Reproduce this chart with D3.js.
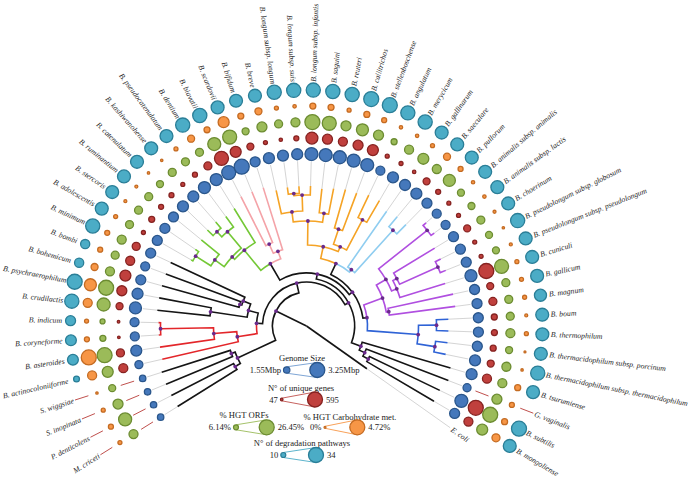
<!DOCTYPE html>
<html><head><meta charset="utf-8">
<script src="https://cdn.jsdelivr.net/npm/d3@7"></script>
<style>body{margin:0;background:#fff}svg{display:block}</style>
</head><body><svg id="c" width="696" height="482"></svg>
<script>
// ---------------- DATA ----------------
const species = ["M. criceti","P. denticolens","S. inopinata","S. wiggsiae","B. actinocoloniiforme","B. asteroides","B. coryneforme","B. indicum","B. crudilactis","B. psychraerophilum",
"B. bohemicum","B. bombi","B. minimum","B. adolescentis","B. stercoris","B. ruminantium","B. catenulatum","B. kashiwanohense","B. pseudocatenulatum","B. dentium",
"B. biavatii","B. scardovii","B. bifidum","B. breve","B. longum subsp. longum","B. longum subsp. suis","B. longum subsp. infantis","B. saguini","B. reuteri","B. callitrichos",
"B. stellenboschense","B. angulatum","B. merycicum","B. gallinarum","B. saeculare","B. pullorum","B. animalis subsp. animalis","B. animalis subsp. lactis","B. choerinum","B. pseudolongum subsp. globosum",
"B. pseudolongum subsp. pseudolongum","B. cuniculi","B. gallicum","B. magnum","B. boum","B. thermophilum","B. thermacidophilum subsp. porcinum","B. thermacidophilum subsp. thermacidophilum","B. tsurumiense","G. vaginalis",
"B. subtilis","B. mongoliense","E. coli"];

// Genome size (Mbp)
const genomeSize = [1.55,1.55,1.55,1.55,1.87,2.46,2.06,2.06,2.66,2.46,
 2.26,2.06,2.26,2.26,2.26,2.26,2.46,2.46,2.66,2.66,
 3.05,3.25,2.26,2.46,2.46,2.46,2.85,2.85,2.85,2.85,
 2.85,2.06,2.46,2.46,2.46,2.26,2.06,2.06,2.26,2.26,
 2.26,2.66,2.26,2.26,2.26,2.26,2.26,2.46,2.46,1.87,
 2.85,2.26,null];
// N° of unique genes
const uniqueGenes = [null,null,null,null,330,286,47,47,241,374,
 418,330,286,109,197,153,153,109,153,286,
 551,418,241,109,82,153,462,374,330,374,
 418,109,109,82,241,153,109,109,241,109,
 109,595,241,286,197,197,197,241,330,null,
 595,330,null];
// % HGT ORFs
const hgtOrfs = [14.3,22.4,16.3,10.2,18.3,26.45,8.2,6.14,22.4,26.45,
 14.3,12.2,14.3,12.2,12.2,12.2,10.2,12.2,12.2,12.2,
 22.4,24.4,10.2,16.3,12.2,14.3,26.45,24.4,16.3,20.4,
 16.3,8.2,14.3,18.3,14.3,20.4,10.2,10.2,12.2,10.2,
 10.2,24.4,12.2,12.2,12.2,14.3,10.2,14.3,14.3,16.3,
 26.45,18.3,null];
// % HGT carbohydrate metabolism
const hgtCarb = [0.73,1.09,0.73,0.15,2.54,4.72,1.09,0.73,2.54,3.63,
 1.82,1.09,1.09,0.73,0.36,0.36,0.15,0.15,0.73,1.82,
 1.45,3.27,1.45,1.82,0.73,0.51,1.45,1.45,0.73,1.45,
 1.09,0.51,0.51,0.73,1.82,1.09,0.51,0.51,0.36,0.15,
 0.36,0.73,0.73,0.73,0.36,0.73,0,0.15,1.45,1.09,
 1.45,2.18,null];
// N° of degradation pathways
const degradation = [null,null,null,null,12,24,24,22,32,34,
 20,20,32,29,29,29,29,29,29,32,
 32,29,29,29,32,32,32,32,32,34,
 34,32,32,29,29,29,29,29,29,32,
 29,29,29,27,29,29,29,32,29,null,
 34,29,null];

// Phylogeny (leaf names = index into species), branch lengths
const cladeA = "((0:0.175,1:0.175):0.015,(2:0.18,3:0.18):0.01):0.105";
const cladeRed = "(4:0.195,(5:0.1375,(6:0.005,7:0.005):0.1325):0.0575)red:0.05";
const cladeBlk = "((8:0.1325,9:0.1325):0.0925,((10:0.2,11:0.2):0.005,12:0.205):0.02):0.025";
const cladeGreen = "((((13:0.005,14:0.01):0.045,15:0.0575):0.02875,((16:0.02,17:0.02):0.0175,18:0.0325):0.05375):0.00875,19:0.1)green:0.065";
const cladePink = "((20:0.1375,21:0.1375):0.025,22:0.1625)pink:0.02";
const cladeOrange = "(((23:0.06,((24:0.0175,25:0.0175):0.005,26:0.0225):0.04):0.025,(27:0.06,28:0.065):0.0225):0.06,((29:0.1,30:0.1):0.04,(31:0.0625,32:0.0625):0.085):0.0125)orange:0.03";
const cladeLB = "(33:0.17,(34:0.0325,35:0.0325):0.1425)lightblue:0.0075";
const cladePurple = "(((36:0.01,37:0.01):0.155,((38:0.12,(39:0.015,40:0.015):0.105):0.011,41:0.1185):0.014):0.0275,(42:0.16625,43:0.16625):0.00625)purple:0.05";
const cladeBlue = "((44:0.03,45:0.03):0.045,(46:0.03,47:0.03):0.045)blue:0.1275";
const cladeOut = "(48:0.23,(49:0.22,(50:0.195,51:0.195):0.015):0.015):0.025";
const newick = "((" + cladeA + ",((" + cladeRed + "," + cladeBlk + "):0.015,((("
  + cladeGreen + "," + cladePink + "):0.0475,((" + cladeOrange + "," + cladeLB + "):0.03,("
  + cladePurple + "," + cladeBlue + "):0.01):0.01):0.0125," + cladeOut + "):0.01):0.025):0.085,52:0.185);";

// ---------------- STYLE ----------------
const cladeColor = {red:"#e3262a", green:"#74c836", pink:"#f4a3a8", orange:"#f5a325", lightblue:"#8fcdf0", purple:"#b04fe0", blue:"#2f63d6"};
const W=696, H=482, cx=306.5, cy=326;
const ringR = [172,188,204,220,236];
const labelR = 244.5;
const seriesStyle = [
  {fill:"#4578bb", stroke:"#2a568b", line:"#6f9bd0"},
  {fill:"#c0403d", stroke:"#862321", line:"#c0504d"},
  {fill:"#9bbb59", stroke:"#6c8c31", line:"#9bbb59"},
  {fill:"#f79646", stroke:"#c46b22", line:"#f79646"},
  {fill:"#4bacc6", stroke:"#2a7e97", line:"#4bacc6"}
];
const series = [
  {values:genomeSize, scale:d3.scaleLinear().domain([1.55,3.25]).range([3.2,7.5])},
  {values:uniqueGenes, scale:d3.scaleLinear().domain([47,595]).range([1.3,7.5])},
  {values:hgtOrfs, scale:d3.scaleLinear().domain([6.14,26.45]).range([2.5,7.5])},
  {values:hgtCarb, scale:d3.scaleLinear().domain([0,4.72]).range([1,7.5])},
  {values:degradation, scale:d3.scaleLinear().domain([10,34]).range([2.5,7.5])}
];
const FONT = "'Liberation Serif','Times New Roman',serif";

// ---------------- LAYOUT ----------------
function parseNewick(s){
  let i=0;
  function node(){
    const n={name:"",len:0};
    if(s[i]==="("){ i++; n.children=[node()]; while(s[i]===","){ i++; n.children.push(node()); } i++; }
    let name=""; while(i<s.length && !",():;".includes(s[i])) name+=s[i++];
    n.name=name.trim();
    if(s[i]===":"){ i++; let num=""; while(i<s.length && !",();".includes(s[i])) num+=s[i++]; n.len=+num; }
    return n;
  }
  return node();
}
const root = d3.hierarchy(parseNewick(newick), d=>d.children);
const angle = d3.scaleLinear().domain([0,species.length-1]).range([-122,125.3]);
const depthR = d3.scaleLinear().domain([0,0.4]).range([0,160]);
root.eachBefore(d=>{ d.dist=(d.parent?d.parent.dist:0)+(d.parent?d.data.len:0);
  d.color = cladeColor[d.data.name] || (d.parent?d.parent.color:"#151515"); });
root.eachAfter(d=>{ if(!d.children){ d.idx=+d.data.name; d.a=angle(d.idx); }
  else d.a=(d.children[0].a+d.children[d.children.length-1].a)/2; });
function pt(a,r){ const t=a*Math.PI/180; return [r*Math.sin(t), -r*Math.cos(t)]; }

const svg = d3.select("#c");
const g = svg.append("g").attr("transform",`translate(${cx},${cy})`);

// gray leaf connectors
const leaves = root.leaves();
const allNull = i => series.every(s=>s.values[i]==null);
g.append("g").selectAll("line").data(leaves).join("line")
  .each(function(d){
    const r0=depthR(d.dist);
    const bv=series[0].values[d.idx];
    const r1 = allNull(d.idx) ? 176 : ringR[0]-(bv!=null?series[0].scale(bv):3)-1.5;
    const [x0,y0]=pt(d.a,r0), [x1,y1]=pt(d.a,r1);
    d3.select(this).attr("x1",x0).attr("y1",y0).attr("x2",x1).attr("y2",y1);
  })
  .attr("stroke","#cfcfcf").attr("stroke-width",0.9);

// tree links
function linkPath(c){
  const p=c.parent, rp=depthR(p.dist), rc=depthR(c.dist);
  const [x2,y2]=pt(c.a,rc);
  if(rp===0) return `M0,0L${x2},${y2}`;
  const [x0,y0]=pt(p.a,rp), [x1,y1]=pt(c.a,rp);
  const sweep=c.a>p.a?1:0, large=Math.abs(c.a-p.a)>180?1:0;
  return `M${x0},${y0}A${rp},${rp} 0 ${large} ${sweep} ${x1},${y1}L${x2},${y2}`;
}
g.append("g").attr("fill","none").selectAll("path")
  .data(root.descendants().filter(d=>d.parent))
  .join("path").attr("d",linkPath).attr("stroke",d=>d.color).attr("stroke-width",1.6);

// node dots
g.append("g").selectAll("circle")
  .data(root.descendants().filter(d=>d.children && d.parent))
  .join("circle")
  .attr("cx",d=>pt(d.a,depthR(d.dist))[0]).attr("cy",d=>pt(d.a,depthR(d.dist))[1])
  .attr("r",1.9).attr("fill","#6a2a8c");

// rings of circles
series.forEach((s,si)=>{
  const st=seriesStyle[si];
  const grp=g.append("g");
  species.forEach((name,i)=>{
    if(allNull(i)) return;
    const a=angle(i), v=s.values[i];
    if(v==null){
      const [x0,y0]=pt(a,ringR[si]-7), [x1,y1]=pt(a,ringR[si]+7);
      grp.append("line").attr("x1",x0).attr("y1",y0).attr("x2",x1).attr("y2",y1)
        .attr("stroke","#c0504d").attr("stroke-width",1);
    } else {
      const [x,y]=pt(a,ringR[si]);
      grp.append("circle").attr("cx",x).attr("cy",y).attr("r",s.scale(v))
        .attr("fill",st.fill).attr("stroke",st.stroke).attr("stroke-width",1.3);
    }
  });
});

// labels
g.append("g").selectAll("text").data(species).join("text")
  .attr("transform",(d,i)=>{ const a=angle(i); const r=allNull(i)?178:labelR;
     return `rotate(${a-90}) translate(${r},0)` + (a<0?" rotate(180)":""); })
  .attr("text-anchor",(d,i)=>angle(i)<0?"end":"start")
  .attr("dy","0.33em")
  .style("font-family",FONT)
  .style("font-style","italic").style("font-size","7.7px").attr("fill","#262626")
  .text(d=>d);

// ---------------- LEGEND ----------------
const legendItems = [
  {title:"Genome Size", tx:302, ty:358, s:0, lo:1.55, hi:3.25, loT:"1.55Mbp", hiT:"3.25Mbp", xs:286.7, xb:317.3, y:370},
  {title:"N° of unique genes", tx:301, ty:388, s:1, lo:47, hi:595, loT:"47", hiT:"595", xs:281.7, xb:315, y:399.5},
  {title:"% HGT ORFs", tx:244, ty:415, s:2, lo:6.14, hi:26.45, loT:"6.14%", hiT:"26.45%", xs:236, xb:266.7, y:427.3},
  {title:"% HGT Carbohydrate met.", tx:350, ty:416.5, s:3, lo:0, hi:4.72, loT:"0%", hiT:"4.72%", xs:325, xb:357.3, y:427.3},
  {title:"N° of degradation pathways", tx:302, ty:443, s:4, lo:10, hi:34, loT:"10", hiT:"34", xs:283.3, xb:316, y:455}
];
const lg = svg.append("g").style("font-family",FONT).style("font-size","8.6px").attr("fill","#222");
legendItems.forEach(it=>{
  const sc=series[it.s].scale, st=seriesStyle[it.s];
  const rs=sc(it.lo), rb=sc(it.hi);
  lg.append("text").attr("x",it.tx).attr("y",it.ty+3).attr("text-anchor","middle").text(it.title);
  lg.append("line").attr("x1",it.xs).attr("y1",it.y-rs).attr("x2",it.xb).attr("y2",it.y-rb).attr("stroke",st.line).attr("stroke-width",0.9);
  lg.append("line").attr("x1",it.xs).attr("y1",it.y+rs).attr("x2",it.xb).attr("y2",it.y+rb).attr("stroke",st.line).attr("stroke-width",0.9);
  lg.append("circle").attr("cx",it.xs).attr("cy",it.y).attr("r",rs).attr("fill",st.fill).attr("stroke",st.stroke).attr("stroke-width",1.2);
  lg.append("circle").attr("cx",it.xb).attr("cy",it.y).attr("r",rb).attr("fill",st.fill).attr("stroke",st.stroke).attr("stroke-width",1.3);
  lg.append("text").attr("x",it.xs-rs-2.5).attr("y",it.y+3).attr("text-anchor","end").text(it.loT);
  lg.append("text").attr("x",it.xb+rb+3.5).attr("y",it.y+3).attr("text-anchor","start").text(it.hiT);
});
</script>
</body></html>
